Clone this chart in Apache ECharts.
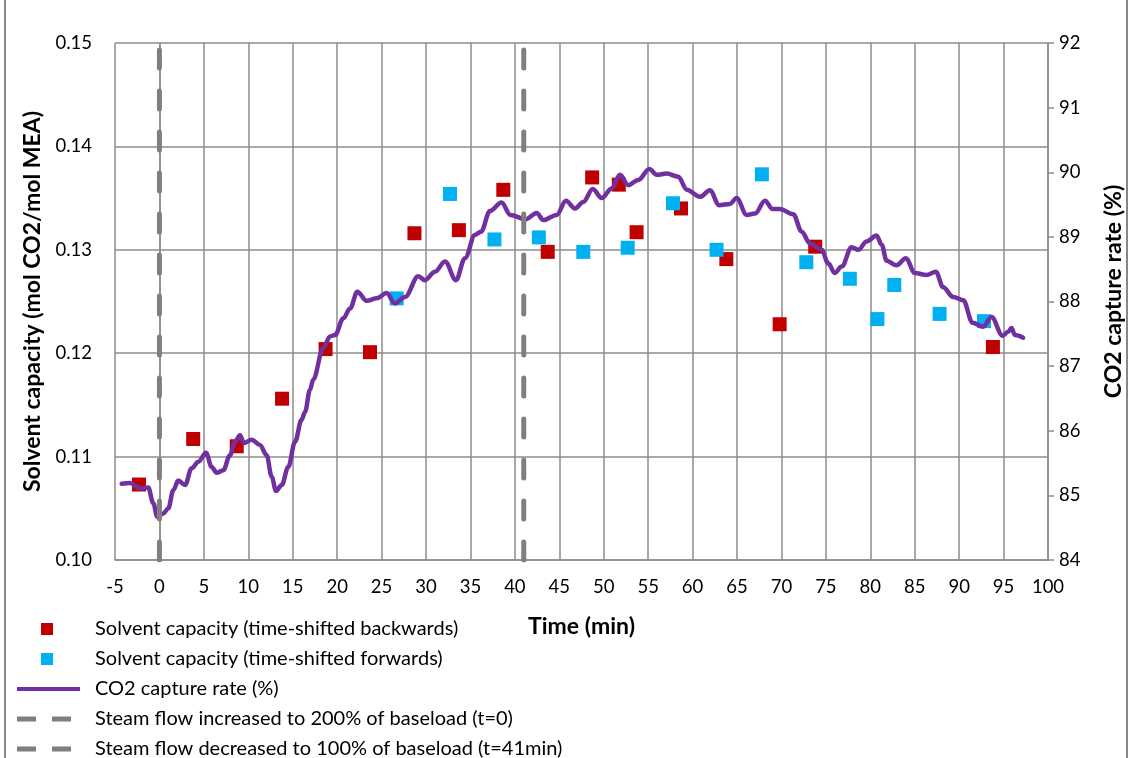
<!DOCTYPE html>
<html>
<head>
<meta charset="utf-8">
<script src="https://cdn.jsdelivr.net/npm/echarts@6/dist/echarts.min.js"></script>
<style>
html,body{margin:0;padding:0;background:#fff;}
#chart{width:1129px;height:758px;}
</style>
</head>
<body>
<div id="chart"></div>
<script>
// ---- data ----
const backwardTime = [-2.3, 3.8, 8.7, 13.8, 18.7, 23.7, 28.7, 33.7, 38.7, 43.7, 48.7, 51.7, 53.7, 58.7, 63.8, 69.8, 73.8, 93.8];
const backwardCapacity = [0.1073, 0.1117, 0.1110, 0.1156, 0.1204, 0.1201, 0.1316, 0.1319, 0.1358, 0.1298, 0.1370, 0.1363, 0.1317, 0.1340, 0.1291, 0.1228, 0.1303, 0.1206];
const forwardTime = [26.7, 32.7, 37.7, 42.7, 47.7, 52.7, 57.8, 62.7, 67.8, 72.8, 77.7, 80.8, 82.7, 87.8, 92.8];
const forwardCapacity = [0.1253, 0.1354, 0.1310, 0.1312, 0.1298, 0.1302, 0.1345, 0.1300, 0.1373, 0.1288, 0.1272, 0.1233, 0.1266, 0.1238, 0.1231];
const captureTime = [-4.25, -3.3, -2.2, -1.25, -0.7, -0.24, 0.44, 1.0, 1.56, 2.12, 2.88, 3.63, 4.38, 5.24, 5.88, 6.44, 7.19, 7.94, 8.5, 9.07, 9.52, 10.38, 11.32, 12.07, 12.63, 13.12, 13.76, 14.5, 15.26, 16.0, 16.38, 16.94, 17.3, 18.44, 19.2, 19.76, 20.7, 21.45, 22.27, 23.32, 24.45, 25.57, 26.5, 27.64, 29.13, 29.89, 31.01, 32.14, 33.37, 34.39, 35.51, 36.19, 37.2, 38.5, 39.5, 41.2, 42.45, 43.2, 44.7, 45.75, 46.77, 47.7, 48.76, 49.77, 50.9, 51.83, 52.77, 53.89, 55.14, 55.96, 57.08, 58.4, 59.34, 60.84, 61.95, 63.0, 64.2, 64.96, 66.09, 67.02, 68.15, 69.0, 69.83, 71.33, 72.28, 73.2, 74.52, 75.27, 76.0, 76.78, 77.9, 78.65, 79.59, 80.71, 81.28, 81.84, 82.96, 84.0, 85.02, 86.33, 87.38, 88.2, 89.33, 90.46, 91.51, 92.7, 93.65, 94.88, 95.52, 95.9, 96.28, 97.2];
const captureRate = [85.18, 85.19, 85.11, 85.12, 84.88, 84.67, 84.72, 84.80, 85.08, 85.23, 85.16, 85.42, 85.52, 85.66, 85.44, 85.35, 85.39, 85.62, 85.83, 85.93, 85.81, 85.86, 85.78, 85.62, 85.29, 85.07, 85.16, 85.44, 85.83, 86.17, 86.29, 86.63, 86.79, 87.28, 87.46, 87.48, 87.74, 87.89, 88.15, 88.01, 88.05, 88.13, 87.97, 88.07, 88.39, 88.33, 88.46, 88.62, 88.33, 88.67, 89.03, 89.08, 89.40, 89.53, 89.34, 89.27, 89.37, 89.26, 89.34, 89.56, 89.44, 89.54, 89.74, 89.60, 89.75, 89.96, 89.80, 89.88, 90.05, 89.96, 89.98, 89.93, 89.73, 89.62, 89.72, 89.49, 89.51, 89.60, 89.34, 89.36, 89.56, 89.43, 89.43, 89.35, 89.08, 88.90, 88.80, 88.59, 88.44, 88.54, 88.84, 88.80, 88.93, 89.02, 88.88, 88.63, 88.56, 88.67, 88.44, 88.41, 88.46, 88.22, 88.07, 88.02, 87.67, 87.61, 87.76, 87.47, 87.53, 87.59, 87.48, 87.44];
const steamIncreaseTime = 0;
const steamDecreaseTime = 41;
const capacityRange = [0.10, 0.15];
const seriesNames = [
  'Solvent capacity (time-shifted backwards)',
  'Solvent capacity (time-shifted forwards)',
  'CO2 capture rate (%)',
  'Steam flow increased to 200% of baseload (t=0)',
  'Steam flow decreased to 100% of baseload (t=41min)'
];
const xTitle = 'Time (min)';
const yLeftTitle = 'Solvent capacity (mol CO2/mol MEA)';
const yRightTitle = 'CO2 capture rate (%)';

const zip = (a, b) => a.map((v, i) => [v, b[i]]);
const FONT = 'Lato';
const GRID = '#8c8c8c';
const TXT = '#000';

const chart = echarts.init(document.getElementById('chart'), null, {renderer: 'canvas'});
const dashStyle = {color: '#7f7f7f', width: 5, type: [18, 23], cap: 'round'};

chart.setOption({
  backgroundColor: '#fff',
  animation: false,
  textStyle: {fontFamily: FONT},
  graphic: [
    {type: 'line', shape: {x1: 5, y1: 0, x2: 5, y2: 758}, style: {stroke: '#878787', lineWidth: 2}},
    {type: 'line', shape: {x1: 1127, y1: 0, x2: 1127, y2: 758}, style: {stroke: '#878787', lineWidth: 2}}
  ],
  grid: {left: 115, right: 81, top: 43, bottom: 198, containLabel: false, outerBoundsMode: 'none'},
  legend: {
    orient: 'vertical', left: 17, top: 619, padding: 0, height: 300,
    itemWidth: 73, itemHeight: 12, itemGap: 10,
    textStyle: {fontFamily: FONT, fontSize: 20, color: TXT, lineHeight: 18},
    selectedMode: false,
    data: [
      {name: seriesNames[0], icon: 'path://M0,0M73,12M24,0h12v12h-12z', itemStyle: {color: '#C00000', borderWidth: 0}},
      {name: seriesNames[1], icon: 'path://M0,0M73,12M24,0h12v12h-12z', itemStyle: {color: '#00B0F0', borderWidth: 0}},
      {name: seriesNames[2], icon: 'path://M0,0M73,12M0,4h63v4h-63z', itemStyle: {color: '#7030A0', borderWidth: 0}},
      {name: seriesNames[3], icon: 'path://M0,0M73,12M0,3.5h19v5h-19zM35,3.5h19v5h-19z', itemStyle: {color: '#7f7f7f', borderWidth: 0}},
      {name: seriesNames[4], icon: 'path://M0,0M73,12M0,3.5h19v5h-19zM35,3.5h19v5h-19z', itemStyle: {color: '#7f7f7f', borderWidth: 0}}
    ]
  },
  xAxis: {
    type: 'value', min: -5, max: 100, interval: 5,
    name: xTitle, nameLocation: 'middle', nameGap: 55,
    nameTextStyle: {fontFamily: FONT, fontSize: 23, fontWeight: 'bold', color: TXT},
    axisLine: {show: true, onZero: false, lineStyle: {color: GRID, width: 1.5}},
    axisTick: {show: false},
    axisLabel: {fontFamily: FONT, fontSize: 18.5, color: TXT, margin: 18},
    splitLine: {show: true, lineStyle: {color: GRID, width: 1.5}}
  },
  yAxis: [
    {
      type: 'value', min: capacityRange[0], max: capacityRange[1], interval: 0.01,
      name: yLeftTitle, nameLocation: 'middle', nameGap: 71,
      nameTextStyle: {fontFamily: FONT, fontSize: 23, fontWeight: 'bold', color: TXT},
      axisLine: {show: true, lineStyle: {color: GRID, width: 1.5}},
      axisTick: {show: false},
      axisLabel: {fontFamily: FONT, fontSize: 18.5, color: TXT, margin: 23, formatter: v => v.toFixed(2)},
      splitLine: {show: true, lineStyle: {color: GRID, width: 1.5}}
    },
    {
      type: 'value', min: 84, max: 92, interval: 1, position: 'right',
      name: yRightTitle, nameLocation: 'middle', nameGap: 54,
      nameTextStyle: {fontFamily: FONT, fontSize: 23, fontWeight: 'bold', color: TXT, padding: [0, 0, 0, 20]},
      axisLine: {show: true, lineStyle: {color: GRID, width: 1.5}},
      axisTick: {show: true, length: 6, lineStyle: {color: GRID, width: 1.5}},
      axisLabel: {fontFamily: FONT, fontSize: 18.5, color: TXT, margin: 11},
      splitLine: {show: false}
    }
  ],
  series: [
    {
      name: seriesNames[0], type: 'scatter', yAxisIndex: 0,
      symbol: 'rect', symbolSize: 14,
      itemStyle: {color: '#C00000', opacity: 1},
      data: zip(backwardTime, backwardCapacity), z: 2
    },
    {
      name: seriesNames[1], type: 'scatter', yAxisIndex: 0,
      symbol: 'rect', symbolSize: 14,
      itemStyle: {color: '#00B0F0', opacity: 1},
      data: zip(forwardTime, forwardCapacity), z: 2
    },
    {
      name: seriesNames[2], type: 'line', yAxisIndex: 1,
      showSymbol: false, symbol: 'none', smooth: 0.35, smoothMonotone: 'x',
      itemStyle: {color: '#7030A0'},
      lineStyle: {color: '#7030A0', width: 4.5, cap: 'round', join: 'round'},
      data: zip(captureTime, captureRate), z: 3
    },
    {
      name: seriesNames[3], type: 'line', yAxisIndex: 0,
      showSymbol: false, symbol: 'none',
      itemStyle: {color: '#7f7f7f'}, lineStyle: dashStyle,
      data: [[steamIncreaseTime, capacityRange[0]], [steamIncreaseTime, capacityRange[1]]], z: 4
    },
    {
      name: seriesNames[4], type: 'line', yAxisIndex: 0,
      showSymbol: false, symbol: 'none',
      itemStyle: {color: '#7f7f7f'}, lineStyle: dashStyle,
      data: [[steamDecreaseTime, capacityRange[0]], [steamDecreaseTime, capacityRange[1]]], z: 4
    }
  ]
});
</script>
</body>
</html>
